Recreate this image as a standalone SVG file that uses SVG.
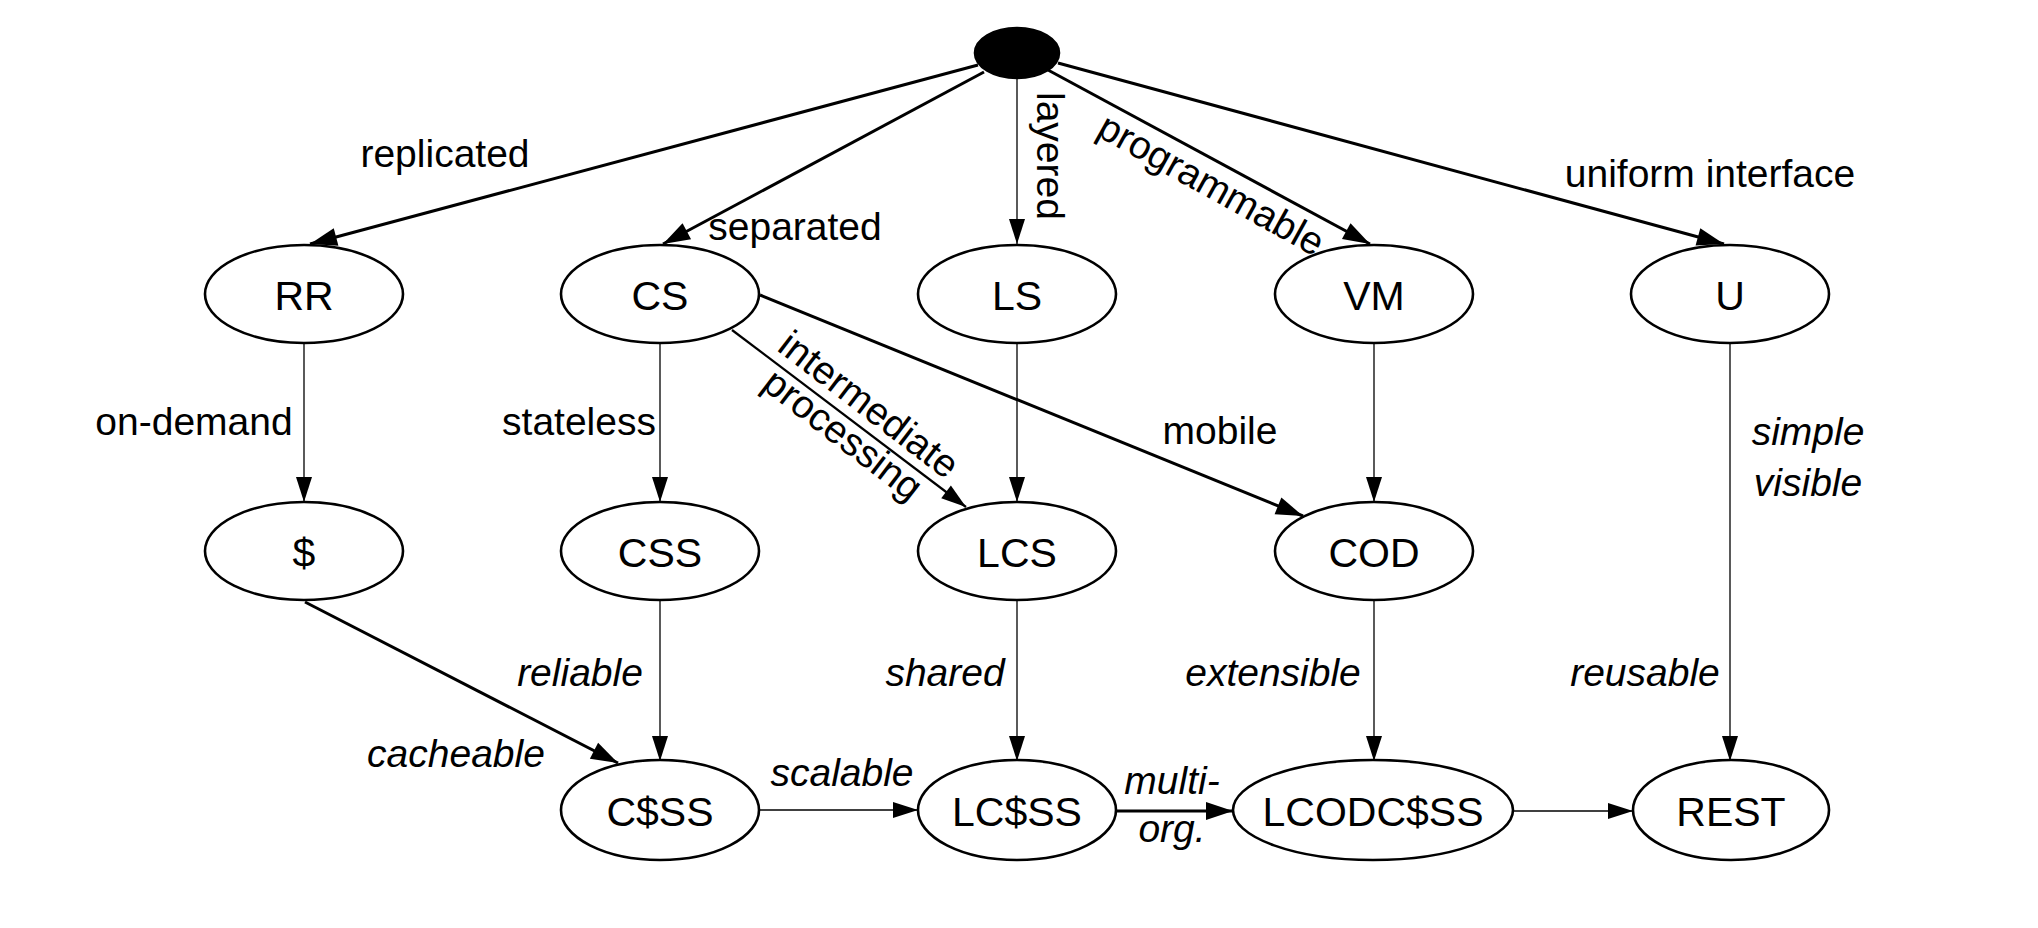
<svg xmlns="http://www.w3.org/2000/svg" width="2038" height="928" viewBox="0 0 2038 928">
<style>
  .node ellipse { fill: #fff; stroke: #000; stroke-width: 2.6; }
  .node text { font-family: "Liberation Sans", Arial, sans-serif; font-size: 41px; fill: #000; text-anchor: middle; }
  .lbl { font-family: "Liberation Sans", Arial, sans-serif; font-size: 39px; fill: #000; text-anchor: middle; }
  .it { font-style: italic; }
  .thin { stroke: #000; stroke-width: 1.3; fill: none; marker-end: url(#ah); }
  .mid { stroke: #000; stroke-width: 2.2; fill: none; marker-end: url(#ah); }
  .thick { stroke: #000; stroke-width: 3; fill: none; marker-end: url(#ahb); }
</style>
<defs>
  <marker id="ah" markerUnits="userSpaceOnUse" markerWidth="26" markerHeight="16" refX="25" refY="8" orient="auto" overflow="visible">
    <path d="M0,0 L25,8 L0,16 z" fill="#000"/>
  </marker>
  <marker id="ahb" markerUnits="userSpaceOnUse" markerWidth="28" markerHeight="18" refX="27" refY="9" orient="auto" overflow="visible">
    <path d="M0,0 L27,9 L0,18 z" fill="#000"/>
  </marker>
</defs>
<rect width="2038" height="928" fill="#fff"/>

<g id="connectors">
  <line class="thick" x1="978" y1="65" x2="310" y2="244"/>
  <line class="thick" x1="984" y1="72" x2="663" y2="244"/>
  <line class="thin" x1="1017" y1="78" x2="1017" y2="244"/>
  <line class="thick" x1="1048" y1="70" x2="1370" y2="244"/>
  <line class="thick" x1="1058" y1="63" x2="1724" y2="244"/>
  <line class="thin" x1="304" y1="343" x2="304" y2="502"/>
  <line class="thin" x1="660" y1="343" x2="660" y2="502"/>
  <line class="mid" x1="732" y1="330" x2="966" y2="507"/>
  <line class="thick" x1="760" y1="295" x2="1303" y2="516"/>
  <line class="thin" x1="1017" y1="343" x2="1017" y2="502"/>
  <line class="thin" x1="1374" y1="343" x2="1374" y2="502"/>
  <line class="thin" x1="1730" y1="343" x2="1730" y2="761"/>
  <line class="thick" x1="305" y1="602" x2="618" y2="763"/>
  <line class="thin" x1="660" y1="601" x2="660" y2="761"/>
  <line class="thin" x1="1017" y1="601" x2="1017" y2="761"/>
  <line class="thin" x1="1374" y1="601" x2="1374" y2="761"/>
  <line class="thin" x1="759" y1="810" x2="918" y2="810"/>
  <line class="thick" x1="1116" y1="811" x2="1233" y2="811"/>
  <line class="thin" x1="1514" y1="811" x2="1633" y2="811"/>

  <text class="lbl" x="445" y="167">replicated</text>
  <text class="lbl" x="795" y="240">separated</text>
  <text class="lbl" x="1037" y="92" transform="rotate(90 1037 92)" style="text-anchor:start">layered</text>
  <text class="lbl" x="1205" y="196" transform="rotate(29 1205 196)">programmable</text>
  <text class="lbl" x="1710" y="187">uniform interface</text>
  <text class="lbl" x="194" y="435">on-demand</text>
  <text class="lbl" x="579" y="435">stateless</text>
  <text class="lbl" x="861" y="415" transform="rotate(37.5 861 415)">intermediate</text>
  <text class="lbl" x="835" y="445" transform="rotate(37.5 835 445)">processing</text>
  <text class="lbl" x="1220" y="444">mobile</text>
  <text class="lbl it" x="1808" y="445">simple</text>
  <text class="lbl it" x="1808" y="496">visible</text>
  <text class="lbl it" x="580" y="686">reliable</text>
  <text class="lbl it" x="945" y="686">shared</text>
  <text class="lbl it" x="1273" y="686">extensible</text>
  <text class="lbl it" x="1645" y="686">reusable</text>
  <text class="lbl it" x="456" y="767">cacheable</text>
  <text class="lbl it" x="842" y="786">scalable</text>
  <text class="lbl it" x="1172" y="794">multi-</text>
  <text class="lbl it" x="1172" y="842">org.</text>
</g>

<g id="root" class="node"><ellipse cx="1017" cy="53" rx="42" ry="25" style="fill:#000"/></g>
<g id="RR" class="node"><ellipse cx="304" cy="294" rx="99" ry="49"/><text x="304" y="310">RR</text></g>
<g id="CS" class="node"><ellipse cx="660" cy="294" rx="99" ry="49"/><text x="660" y="310">CS</text></g>
<g id="LS" class="node"><ellipse cx="1017" cy="294" rx="99" ry="49"/><text x="1017" y="310">LS</text></g>
<g id="VM" class="node"><ellipse cx="1374" cy="294" rx="99" ry="49"/><text x="1374" y="310">VM</text></g>
<g id="U" class="node"><ellipse cx="1730" cy="294" rx="99" ry="49"/><text x="1730" y="310">U</text></g>
<g id="cache" class="node"><ellipse cx="304" cy="551" rx="99" ry="49"/><text x="304" y="567">$</text></g>
<g id="CSS" class="node"><ellipse cx="660" cy="551" rx="99" ry="49"/><text x="660" y="567">CSS</text></g>
<g id="LCS" class="node"><ellipse cx="1017" cy="551" rx="99" ry="49"/><text x="1017" y="567">LCS</text></g>
<g id="COD" class="node"><ellipse cx="1374" cy="551" rx="99" ry="49"/><text x="1374" y="567">COD</text></g>
<g id="CcacheSS" class="node"><ellipse cx="660" cy="810" rx="99" ry="50"/><text x="660" y="826">C$SS</text></g>
<g id="LCcacheSS" class="node"><ellipse cx="1017" cy="810" rx="99" ry="50"/><text x="1017" y="826">LC$SS</text></g>
<g id="LCODCcacheSS" class="node"><ellipse cx="1373" cy="810" rx="140" ry="50"/><text x="1373" y="826">LCODC$SS</text></g>
<g id="REST" class="node"><ellipse cx="1731" cy="810" rx="98" ry="50"/><text x="1731" y="826">REST</text></g>
</svg>
